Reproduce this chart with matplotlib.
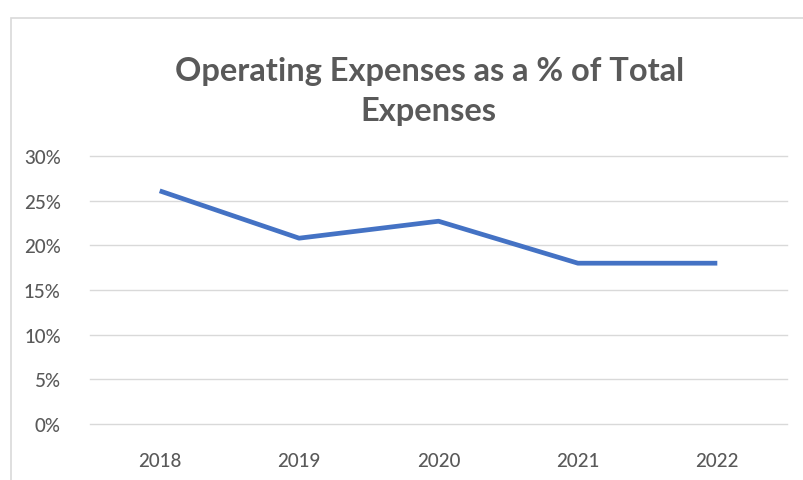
import matplotlib.pyplot as plt
from matplotlib.patches import Rectangle
from matplotlib.ticker import PercentFormatter

# data
years = ['2018', '2019', '2020', '2021', '2022']
opex_pct = [26.1, 20.8, 22.7, 18.0, 18.0]
y_ticks = [0, 5, 10, 15, 20, 25, 30]

plt.rcParams['font.family'] = ['Lato', 'DejaVu Sans']
grey = '#595959'

fig = plt.figure(figsize=(8.04, 4.81), dpi=100)
fig.patch.set_facecolor('white')

# chart border (cropped at right and bottom)
fig.patches.append(Rectangle((11 / 804, -0.05), 1.2, 1 - 19 / 481 + 0.05,
                             transform=fig.transFigure, fill=False,
                             edgecolor='#d9d9d9', linewidth=1.2))

ax = fig.add_axes([90 / 804, 1 - 425 / 481, 697 / 804, 268 / 481])
ax.plot(range(len(years)), opex_pct, color='#4472C4', linewidth=3.4,
        solid_capstyle='butt', solid_joinstyle='round')

ax.set_xlim(-0.5, len(years) - 0.5)
ax.set_ylim(0, 30)
ax.set_yticks(y_ticks)
ax.yaxis.set_major_formatter(PercentFormatter(decimals=0))
ax.set_xticks(range(len(years)))
ax.set_xticklabels(years)

ax.grid(axis='y', color='#d9d9d9', linewidth=1)
for gl in ax.get_ygridlines():
    gl.set_clip_on(False)
ax.set_axisbelow(True)
for s in ax.spines.values():
    s.set_visible(False)
ax.tick_params(axis='both', length=0, colors=grey, labelsize=13.5)
ax.tick_params(axis='y', pad=21)
ax.tick_params(axis='x', pad=20)
for lbl in ax.get_xticklabels() + ax.get_yticklabels():
    lbl.set_fontweight('medium')

fig.text(430 / 804, 1 - 71 / 481, 'Operating Expenses as a % of Total',
         ha='center', va='center', fontsize=23.5, fontweight='bold', color=grey)
fig.text(428 / 804, 1 - 112 / 481, 'Expenses',
         ha='center', va='center', fontsize=23.5, fontweight='bold', color=grey)

fig.savefig('out.png', dpi=100)
